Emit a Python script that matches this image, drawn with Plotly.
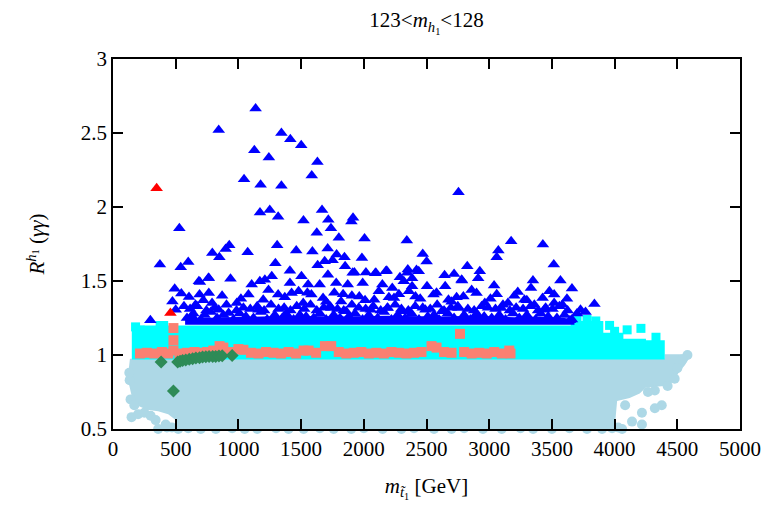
import plotly.graph_objects as go

# ---------------- data ----------------
# light-blue region (dense cloud) envelope
lb_x = [135, 4400, 4400, 4570, 4600, 4560, 4510, 4470, 4400, 4250, 4200, 4120, 4020, 4000,
        505, 500, 440, 360, 270, 190, 150, 128, 125]
lb_y = [0.975, 0.975, 1.005, 1.005, 0.985, 0.93, 0.88, 0.82, 0.79, 0.78, 0.74, 0.71, 0.69, 0.5,
        0.5, 0.56, 0.60, 0.62, 0.63, 0.66, 0.72, 0.80, 0.90]
# light-blue edge points
lbp_x = [4581, 4540, 4500, 4479, 4423, 4321, 4266, 4376, 4321, 4084, 4218, 4139, 4218, 4028,
         4060, 3980, 3900, 3780, 3640, 3500, 3350, 3250, 3100, 2950, 2800, 2700, 2560, 2400,
         2300, 2150, 2000, 1900, 1760, 1650, 1520, 1400, 1300, 1150, 1050, 950, 820, 700,
         600, 520, 430, 360, 148, 200, 250, 300, 340, 420, 470, 133, 130, 140, 170]
lbp_y = [1.0, 0.97, 0.91, 0.84, 0.79, 0.76, 0.75, 0.66, 0.64, 0.66, 0.61, 0.55, 0.53, 0.51,
         0.5, 0.505, 0.5, 0.5, 0.505, 0.5, 0.5, 0.505, 0.5, 0.5, 0.505, 0.5, 0.5, 0.505,
         0.5, 0.5, 0.505, 0.5, 0.5, 0.505, 0.5, 0.5, 0.505, 0.5, 0.5, 0.505, 0.5, 0.5,
         0.505, 0.5, 0.51, 0.5, 0.58, 0.60, 0.61, 0.59, 0.56, 0.53, 0.51, 0.83, 0.88, 0.70, 0.66]

# cyan region envelope
cy_x = [150, 150, 245, 245, 340, 340, 440, 440, 3650, 3650, 3910, 3910, 4070, 4070, 4250,
        4250, 4400, 4400]
cy_y = [0.97, 1.17, 1.17, 1.20, 1.20, 1.23, 1.23, 1.20, 1.20, 1.23, 1.23, 1.15, 1.15, 1.11,
        1.11, 1.10, 1.10, 0.97]
# cyan edge points
cyp_x = [4100, 4210, 3700, 3780, 3850, 4000, 4330, 180, 215, 3960]
cyp_y = [1.17, 1.18, 1.235, 1.24, 1.23, 1.16, 1.12, 1.19, 1.17, 1.2]

# salmon points
sal_x = [215, 270, 330, 390, 440, 482, 482, 482, 530, 590, 650, 700, 750, 800, 850, 880,
         940, 1000, 1040, 1100, 1160, 1220, 1280, 1340, 1400, 1460, 1520, 1560, 1620, 1690,
         1740, 1800, 1860, 1920, 1980, 2040, 2100, 2160, 2220, 2280, 2340, 2400, 2460, 2540,
         2580, 2640, 2700, 2767, 2800, 2860, 2920, 2980, 3040, 3100, 3160, 3170]
sal_y = [1.01, 1.015, 1.01, 1.02, 1.01, 1.182, 1.10, 1.03, 1.01, 1.015, 1.02, 1.015, 1.02,
         1.03, 1.06, 1.05, 1.02, 1.04, 1.035, 1.015, 1.01, 1.02, 1.015, 1.01, 1.02, 1.01,
         1.03, 1.03, 1.015, 1.06, 1.06, 1.02, 1.01, 1.015, 1.02, 1.01, 1.015, 1.01, 1.02,
         1.015, 1.01, 1.015, 1.02, 1.06, 1.05, 1.02, 1.015, 1.143, 1.02, 1.01, 1.015, 1.01,
         1.02, 1.01, 1.03, 1.01]

# blue dense core envelope
bc_x = [575, 3680, 3680, 3600, 3400, 3200, 2900, 2600, 2200, 1800, 1400, 1000, 700, 575]
bc_y = [1.205, 1.205, 1.24, 1.25, 1.26, 1.255, 1.265, 1.26, 1.265, 1.26, 1.265, 1.255, 1.25, 1.24]

# blue triangles
bl_x = [1137, 843, 1343, 1414, 1501, 1127, 1243, 1630, 1585, 1045, 1177, 1343, 2755,
        1172, 1250, 1317, 1667, 1717, 1519, 1914, 1901, 1738, 1625, 529, 1801, 2006, 2343,
        1309, 927, 898, 792, 848, 1074, 1461, 1590, 1712, 1783, 1846, 1985, 2470, 2501, 374,
        600, 540, 1295, 1632, 1688, 1751, 1851, 1411, 1503, 1714, 1925, 2017, 2091, 2183,
        2351, 2420, 2385, 2288, 693, 761, 937, 1266, 2644, 2720,
        3175, 3428, 3073, 3060, 2825, 3515, 2925, 2912, 2783, 3568, 3349, 3039,
        298, 492, 474, 545, 606, 685, 764, 690, 764, 658, 566, 500, 632, 790, 843, 922, 987,
        1080, 1106, 1171, 1211, 1198, 1317, 1159,
        1911, 2096, 2175, 2346, 2438, 1411, 1556, 1648, 1780, 1872, 1991, 2148, 2227, 2319,
        2385, 2504, 2649, 1675, 1819, 1964, 2083, 2241, 2412, 2556, 2675, 1517, 1424, 1582,
        1740, 1859, 2056, 2188, 2306, 2491, 2622,
        2780, 2899, 3228, 3333, 3518, 2794, 2965, 3149, 3281, 3426, 3518, 3584, 3728, 3839,
        3644, 3096, 3360, 3439, 2754,
        590, 640, 700, 730, 780, 830, 880, 960, 1010, 1060, 1120, 1180, 1230, 1290, 1350,
        1380, 1440, 1490, 1540, 1600, 1650, 1700, 1760, 1810, 1880, 1930, 1990, 2040, 2110,
        2160, 2220, 2270, 2330, 2380, 2440, 2510, 2560, 2600, 2670, 2720, 2800, 2850, 2900,
        2960, 3020, 3080, 3130, 3190, 3240, 3300, 3370, 3410, 3470, 3540, 3600, 3660, 3768,
        615, 670, 745, 810, 905, 985, 1040, 1095, 1150, 1205, 1260, 1320, 1365, 1415, 1465,
        1525, 1575, 1625, 1680, 1730, 1790, 1840, 1905, 1960, 2015, 2075, 2135, 2190, 2250,
        2300, 2355, 2410, 2470, 2530, 2585, 2640, 2695, 2750, 2830, 2880, 2940, 2990, 3050,
        3110, 3165, 3215, 3270, 3330, 3390, 3450, 3505, 3560, 3625, 3700,
        720, 870, 1020, 1240, 1370, 1480, 1700, 1765, 1905, 2010, 2120, 2200, 2280, 2450,
        2580, 2700, 2860, 3010, 3200, 3300, 3480, 3620, 3660, 1550, 1835, 2360, 2740, 3060]
bl_y = [2.666, 2.52, 2.50, 2.458, 2.417, 2.383, 2.334, 2.304, 2.212, 2.187, 2.151, 2.144, 2.10,
        1.963, 1.979, 1.934, 1.979, 1.914, 1.909, 1.927, 1.902, 1.857, 1.826, 1.857, 1.792,
        1.787, 1.774, 1.742, 1.742, 1.717, 1.690, 1.661, 1.695, 1.706, 1.699, 1.720, 1.679,
        1.661, 1.656, 1.683, 1.631, 1.611, 1.629, 1.593, 1.620, 1.606, 1.633, 1.640, 1.600,
        1.570, 1.532, 1.543, 1.557, 1.557, 1.552, 1.570, 1.577, 1.575, 1.518, 1.525, 1.494,
        1.521, 1.516, 1.532, 1.539, 1.548,
        1.769, 1.747, 1.706, 1.661, 1.600, 1.611, 1.566, 1.518, 1.503, 1.503, 1.503, 1.469,
        1.234, 1.447, 1.362, 1.415, 1.392, 1.498, 1.521, 1.408, 1.419, 1.340, 1.329, 1.306,
        1.261, 1.352, 1.306, 1.284, 1.352, 1.408, 1.476, 1.498, 1.509, 1.374, 1.408, 1.306,
        1.555, 1.555, 1.566, 1.555, 1.566, 1.487, 1.476, 1.476, 1.487, 1.476, 1.487, 1.476,
        1.453, 1.498, 1.464, 1.464, 1.464, 1.385, 1.362, 1.396, 1.374, 1.385, 1.396, 1.408,
        1.374, 1.352, 1.419, 1.408, 1.317, 1.295, 1.306, 1.317, 1.295, 1.306, 1.295,
        1.509, 1.419, 1.426, 1.453, 1.408, 1.396, 1.352, 1.352, 1.374, 1.385, 1.352, 1.340,
        1.306, 1.345, 1.234, 1.317, 1.340, 1.306, 1.317,
        1.25, 1.28, 1.24, 1.27, 1.29, 1.25, 1.27, 1.24, 1.28, 1.26, 1.25, 1.29, 1.24, 1.27,
        1.25, 1.28, 1.24, 1.27, 1.26, 1.25, 1.28, 1.24, 1.27, 1.25, 1.26, 1.28, 1.24, 1.27,
        1.25, 1.29, 1.24, 1.27, 1.25, 1.28, 1.24, 1.26, 1.27, 1.24, 1.28, 1.25, 1.27, 1.24,
        1.28, 1.26, 1.25, 1.27, 1.24, 1.28, 1.25, 1.27, 1.24, 1.28, 1.26, 1.25, 1.27, 1.24,
        1.29,
        1.31, 1.33, 1.30, 1.32, 1.34, 1.30, 1.32, 1.31, 1.33, 1.30, 1.34, 1.31, 1.32, 1.30,
        1.33, 1.31, 1.34, 1.30, 1.32, 1.33, 1.31, 1.30, 1.34, 1.32, 1.31, 1.33, 1.30, 1.32,
        1.34, 1.31, 1.30, 1.33, 1.32, 1.31, 1.34, 1.30, 1.32, 1.33, 1.31, 1.30, 1.33, 1.32,
        1.31, 1.34, 1.30, 1.32, 1.31, 1.33, 1.30, 1.32, 1.31, 1.33, 1.30, 1.28,
        1.37, 1.40, 1.38, 1.44, 1.39, 1.43, 1.36, 1.42, 1.40, 1.37, 1.43, 1.39, 1.41, 1.38,
        1.42, 1.36, 1.44, 1.38, 1.40, 1.37, 1.43, 1.38, 1.45, 1.42, 1.41, 1.43, 1.39, 1.41]

# red triangles
red_x = [348, 458]
red_y = [2.126, 1.284]

# green diamonds
gr_x = [384, 482, 516, 535, 555, 580, 608, 635, 661, 690, 714, 740, 766, 795, 819, 845, 871, 950]
gr_y = [0.952, 0.757, 0.952, 0.958, 0.963, 0.967, 0.972, 0.975, 0.979, 0.982, 0.986, 0.988,
        0.990, 0.99, 0.990, 0.993, 0.995, 0.997]

x_ticks = [0, 500, 1000, 1500, 2000, 2500, 3000, 3500, 4000, 4500, 5000]
y_ticks = [0.5, 1, 1.5, 2, 2.5, 3]

LB = "#ADD8E6"
CY = "#00FFFF"
SA = "#FA8072"
BL = "#0000FF"
RD = "#FF0000"
GR = "#2E8B57"
FONT = "Liberation Serif, Times New Roman, DejaVu Serif, serif"

fig = go.Figure()
fig.add_trace(go.Scatter(x=lb_x, y=lb_y, fill="toself", fillcolor=LB, mode="lines",
                         line=dict(width=0, color=LB), hoverinfo="skip"))
fig.add_trace(go.Scatter(x=lbp_x, y=lbp_y, mode="markers", cliponaxis=False,
                         marker=dict(symbol="circle", size=10, color=LB, line=dict(width=0))))
fig.add_trace(go.Scatter(x=cy_x, y=cy_y, fill="toself", fillcolor=CY, mode="lines",
                         line=dict(width=0, color=CY), hoverinfo="skip"))
fig.add_trace(go.Scatter(x=cyp_x, y=cyp_y, mode="markers",
                         marker=dict(symbol="square", size=9, color=CY, line=dict(width=0))))
fig.add_trace(go.Scatter(x=sal_x, y=sal_y, mode="markers",
                         marker=dict(symbol="square", size=10, color=SA, line=dict(width=0))))
fig.add_trace(go.Scatter(x=bc_x, y=bc_y, fill="toself", fillcolor=BL, mode="lines",
                         line=dict(width=0, color=BL), hoverinfo="skip"))
fig.add_trace(go.Scatter(x=bl_x, y=bl_y, mode="markers",
                         marker=dict(symbol="triangle-up", size=11, color=BL, line=dict(width=0))))
fig.add_trace(go.Scatter(x=red_x, y=red_y, mode="markers",
                         marker=dict(symbol="triangle-up", size=11, color=RD, line=dict(width=0))))
fig.add_trace(go.Scatter(x=gr_x, y=gr_y, mode="markers",
                         marker=dict(symbol="diamond", size=10, color=GR, line=dict(width=0))))

axis_common = dict(showline=True, linecolor="black", linewidth=1.5, mirror="ticks",
                   ticks="inside", ticklen=10, tickwidth=1.5, tickcolor="black",
                   showgrid=False, zeroline=False,
                   tickfont=dict(family=FONT, size=21, color="black"))
fig.update_xaxes(range=[0, 5000], tickvals=x_ticks, **axis_common,
                 title=dict(text="<i>m</i><sub><i>t̃</i><sub>1</sub></sub> [GeV]",
                            font=dict(family=FONT, size=21, color="black"), standoff=18))
fig.update_yaxes(range=[0.5, 3], tickvals=y_ticks, **axis_common,
                 title=dict(text="<i>R</i><sup><i>h</i><sub>1</sub></sup> (<i>γγ</i>)",
                            font=dict(family=FONT, size=21, color="black"), standoff=30))
fig.update_layout(
    width=773, height=506,
    margin=dict(l=113, r=27, t=59, b=77),
    paper_bgcolor="white", plot_bgcolor="white",
    showlegend=False,
    font=dict(family=FONT, color="black"),
    title=dict(text="123&lt;<i>m</i><sub><i>h</i><sub>1</sub></sub>&lt;128",
               x=0.5, xref="paper", xanchor="center",
               y=1 - 20 / 506, yref="container", yanchor="middle",
               font=dict(family=FONT, size=21, color="black")),
)
fig.write_html("out.html")
